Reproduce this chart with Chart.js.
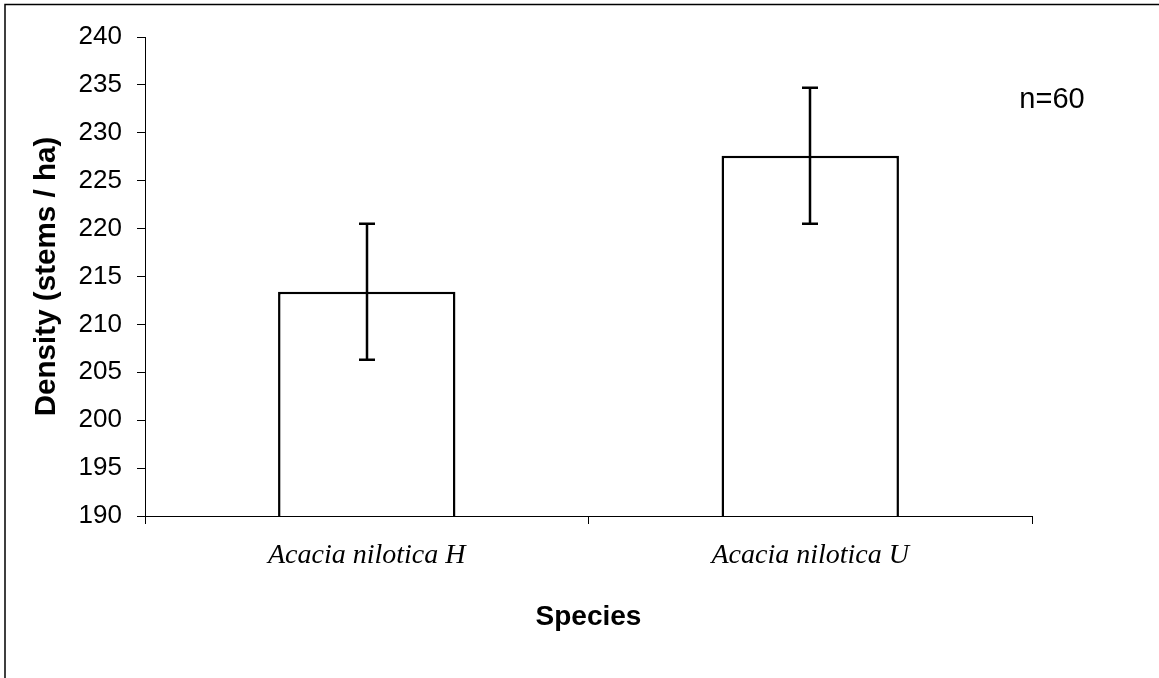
<!DOCTYPE html>
<html>
<head>
<meta charset="utf-8">
<title>Density by species</title>
<script src="https://cdn.jsdelivr.net/npm/chart.js@4/dist/chart.umd.min.js"></script>
<style>
  html, body { margin: 0; padding: 0; background: #fff; }
  #wrap { width: 1159px; height: 678px; }
</style>
</head>
<body>
<div id="wrap"><canvas id="chart" width="1159" height="678"></canvas></div>
<script>
// Mean stem density per species, with error bar half-widths
const species = ['Acacia nilotica H', 'Acacia nilotica U'];
const meanDensity = [213.4, 227.6];
const errorHalf = [7.1, 7.1];
const sampleSize = 60;

// Y axis range and step
const yMin = 190;
const yMax = 240;
const yStep = 5;

const SANS = '"Liberation Sans", Arial, sans-serif';
const SERIF = '"Liberation Serif", "Times New Roman", serif';

// White background plus the outer frame line
const backdrop = {
  id: 'backdrop',
  beforeDraw(chart) {
    const ctx = chart.ctx;
    ctx.save();
    ctx.fillStyle = '#fff';
    ctx.fillRect(0, 0, chart.width, chart.height);
    ctx.restore();
  },
  afterDraw(chart) {
    const ctx = chart.ctx;
    ctx.save();
    ctx.strokeStyle = '#000';
    ctx.lineWidth = 1.5;
    ctx.strokeRect(5, 4.5, chart.width + 50, chart.height + 50);
    ctx.restore();
  }
};

// Vertical error bars with short caps
const errorBars = {
  id: 'errorBars',
  afterDatasetsDraw(chart) {
    const ctx = chart.ctx;
    const yScale = chart.scales.y;
    const meta = chart.getDatasetMeta(0);
    ctx.save();
    ctx.strokeStyle = '#000';
    ctx.lineWidth = 2.5;
    meta.data.forEach((bar, i) => {
      const x = Math.round(bar.x);
      const top = yScale.getPixelForValue(meanDensity[i] + errorHalf[i]);
      const bot = yScale.getPixelForValue(meanDensity[i] - errorHalf[i]);
      const cap = 8;
      ctx.beginPath();
      ctx.moveTo(x, top);
      ctx.lineTo(x, bot);
      ctx.moveTo(x - cap, top);
      ctx.lineTo(x + cap, top);
      ctx.moveTo(x - cap, bot);
      ctx.lineTo(x + cap, bot);
      ctx.stroke();
    });
    ctx.restore();
  }
};

// Sample size note in the upper right
const sampleNote = {
  id: 'sampleNote',
  afterDraw(chart) {
    const ctx = chart.ctx;
    ctx.save();
    ctx.fillStyle = '#000';
    ctx.font = '29px ' + SANS;
    ctx.textAlign = 'center';
    ctx.textBaseline = 'middle';
    ctx.fillText('n=' + sampleSize, 1052, 100);
    ctx.restore();
  }
};

new Chart(document.getElementById('chart'), {
  type: 'bar',
  data: {
    labels: species,
    datasets: [{
      data: meanDensity,
      backgroundColor: '#fff',
      borderColor: '#000',
      borderWidth: 2.5,
      borderSkipped: false,
      barPercentage: 0.4,
      categoryPercentage: 1.0
    }]
  },
  options: {
    responsive: false,
    animation: false,
    devicePixelRatio: 1,
    layout: { padding: { left: 0, top: 37, right: 127, bottom: 0 } },
    plugins: {
      legend: { display: false },
      tooltip: { enabled: false }
    },
    scales: {
      x: {
        offset: true,
        grid: {
          offset: true,
          drawOnChartArea: false,
          drawTicks: true,
          tickLength: 8,
          color: '#000',
          lineWidth: 1
        },
        border: { display: true, color: '#000', width: 1 },
        ticks: {
          color: '#000',
          padding: 15,
          maxRotation: 0,
          font: { family: SERIF, size: 28, style: 'italic' }
        },
        title: {
          display: true,
          text: 'Species',
          color: '#000',
          font: { family: SANS, size: 28, weight: 'bold' },
          padding: { top: 0, bottom: 44 }
        },
        afterFit(scale) { scale.height = 162; }
      },
      y: {
        min: yMin,
        max: yMax,
        grid: {
          drawOnChartArea: false,
          drawTicks: true,
          tickLength: 8,
          color: '#000',
          lineWidth: 1
        },
        border: { display: true, color: '#000', width: 1 },
        ticks: {
          stepSize: yStep,
          color: '#000',
          padding: 15,
          font: { family: SANS, size: 26 }
        },
        title: {
          display: true,
          text: 'Density (stems / ha)',
          color: '#000',
          font: { family: SANS, size: 29.6, weight: 'bold' },
          padding: { top: 29, bottom: 0 }
        },
        afterFit(scale) { scale.width = 145; }
      }
    }
  },
  plugins: [backdrop, errorBars, sampleNote]
});
</script>
</body>
</html>
